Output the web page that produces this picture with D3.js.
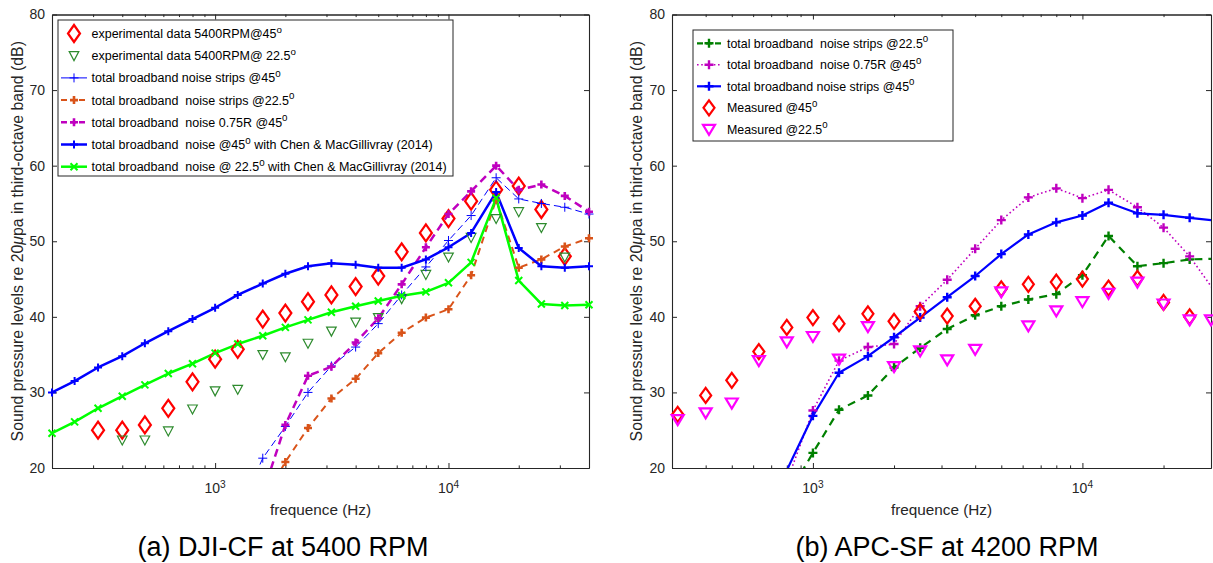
<!DOCTYPE html>
<html><head><meta charset="utf-8">
<script src="https://cdn.jsdelivr.net/npm/d3@7/dist/d3.min.js"></script>
<style>
body{margin:0;background:#fff;}
svg{display:block;font-family:Arial,"Liberation Sans",sans-serif;}
text{white-space:pre;}
</style></head><body>
<svg id="chart" width="1213" height="563"></svg>
<script>
// ---------------- DATA ----------------
const yTicks = [20, 30, 40, 50, 60, 70, 80];
const xMajorTicks = [1000, 10000];
const xTickExponents = ["3", "4"];

// Left chart (a) DJI-CF at 5400 RPM
const leftFreq = [160,200,250,315,400,500,630,800,1000,1250,1600,2000,2500,3150,4000,5000,6300,8000,10000,12500,16000,20000,25000,31500,40000];
const leftExp45 = [null,null,null,25.0,25.0,25.7,27.9,31.4,34.4,35.7,39.7,40.5,42.0,42.9,44.0,45.4,48.6,51.1,53.0,55.3,56.8,57.3,54.2,48.0,null];
const leftExp22 = [null,null,null,null,23.7,23.7,24.9,27.8,30.2,30.4,35.0,34.7,36.5,38.1,39.3,39.9,42.4,45.6,47.9,50.5,53.0,53.9,51.8,47.9,null];
const leftStrips45 = [null,null,null,null,null,null,null,null,null,13.8,21.3,25.5,30.0,33.5,36.0,39.1,42.9,46.6,50.1,53.4,58.4,55.6,55.0,54.5,53.6];
const leftStrips22 = [null,null,null,null,null,null,null,null,null,null,15.5,20.8,25.3,29.2,31.8,35.2,37.9,39.9,41.0,45.5,55.5,46.5,47.6,49.3,50.4];
const left075R = [null,null,null,null,null,null,null,null,null,null,16.6,25.7,32.2,33.4,36.6,39.8,44.3,49.2,53.6,56.6,60.0,56.8,57.5,56.0,53.9];
const leftChen45 = [28.5,30.0,31.5,33.3,34.8,36.5,38.1,39.7,41.2,42.9,44.4,45.7,46.7,47.1,46.9,46.5,46.5,47.6,49.2,51.1,56.5,49.1,46.7,46.5,46.7];
const leftChen22 = [23.1,24.6,26.1,27.9,29.5,31.0,32.5,33.8,35.2,36.4,37.5,38.6,39.6,40.6,41.4,42.1,42.8,43.3,44.5,47.2,55.7,44.8,41.7,41.5,41.6];
const leftLabels = [
  "experimental data 5400RPM@45^o",
  "experimental data 5400RPM@ 22.5^o",
  "total broadband noise strips @45^0",
  "total broadband  noise strips @22.5^0",
  "total broadband  noise 0.75R @45^0",
  "total broadband  noise @45^0 with Chen & MacGillivray (2014)",
  "total broadband  noise @ 22.5^0 with Chen & MacGillivray (2014)"
];

// Right chart (b) APC-SF at 4200 RPM
const rightFreq = [800,1000,1250,1600,2000,2500,3150,4000,5000,6300,8000,10000,12500,16000,20000,25000,31500];
const rightStrips22 = [16.1,22.0,27.7,29.6,33.3,35.9,38.4,40.2,41.4,42.3,43.0,45.5,50.7,46.7,47.1,47.6,47.7];
const right075R = [18.2,27.6,34.2,36.0,36.4,41.4,44.9,49.0,52.8,55.8,57.0,55.7,56.8,54.5,51.8,48.0,43.0];
const rightStrips45 = [19.7,26.9,32.6,34.8,37.3,39.9,42.6,45.4,48.3,50.9,52.5,53.4,55.1,53.7,53.5,53.1,52.7];
const rightMeasFreq = [315,400,500,630,800,1000,1250,1600,2000,2500,3150,4000,5000,6300,8000,10000,12500,16000,20000,25000,30000];
const rightMeas45 = [27.1,29.6,31.6,35.4,38.6,39.9,39.1,40.4,39.4,40.7,40.1,41.4,43.7,44.3,44.6,45.0,43.8,45.1,41.9,40.0,null];
const rightMeas22 = [26.4,27.3,28.6,34.2,36.7,37.4,34.4,38.7,33.4,35.5,34.3,35.7,43.3,38.8,40.8,42.0,43.1,44.6,41.7,39.6,39.6];
const rightLabels = [
  "total broadband  noise strips @22.5^0",
  "total broadband  noise 0.75R @45^0",
  "total broadband noise strips @45^0",
  "Measured @45^0",
  "Measured @22.5^0"
];

const xLabel = "frequence (Hz)";
const captions = ["(a) DJI-CF at 5400 RPM", "(b) APC-SF at 4200 RPM"];

// ---------------- DRAWING ----------------
const AX = "#262626";
const svg = d3.select("#chart");

function richText(sel, str, fs) {
  const parts = str.split(/(\^.)/);
  let raised = false;
  const up = fs * 0.42;
  parts.forEach(p => {
    if (!p) return;
    if (p[0] === "^") {
      sel.append("tspan").attr("dy", -up).attr("font-size", fs * 0.78).text(p[1]);
      raised = true;
    } else {
      const t = sel.append("tspan");
      if (raised) { t.attr("dy", up); raised = false; }
      t.text(p);
    }
  });
}

function marker(g, type, cx, cy, s) {
  const c = s.color, sw = s.mw;
  if (type === "diamond") {
    g.append("path").attr("d", `M${cx},${cy - s.mh}L${cx + s.mwid},${cy}L${cx},${cy + s.mh}L${cx - s.mwid},${cy}Z`)
      .attr("fill", "none").attr("stroke", c).attr("stroke-width", sw).attr("stroke-linejoin", "miter");
  } else if (type === "tri") {
    g.append("path").attr("d", `M${cx - s.mwid},${cy - s.mh * 0.45}L${cx + s.mwid},${cy - s.mh * 0.45}L${cx},${cy + s.mh * 0.55}Z`)
      .attr("fill", "none").attr("stroke", c).attr("stroke-width", sw);
  } else if (type === "plus") {
    const r = s.ms;
    g.append("path").attr("d", `M${cx - r},${cy}H${cx + r}M${cx},${cy - r}V${cy + r}`)
      .attr("stroke", c).attr("stroke-width", sw).attr("fill", "none");
  } else if (type === "x") {
    const r = s.ms;
    g.append("path").attr("d", `M${cx - r},${cy - r}L${cx + r},${cy + r}M${cx - r},${cy + r}L${cx + r},${cy - r}`)
      .attr("stroke", c).attr("stroke-width", sw).attr("fill", "none");
  }
}

function drawChart(cfg) {
  const { left, top, width, height, domain } = cfg;
  const g = svg.append("g").attr("transform", `translate(${left},${top})`);
  const x = d3.scaleLog().domain(domain).range([0, width]);
  const y = d3.scaleLinear().domain([20, 80]).range([height, 0]);
  const clipId = "clip" + cfg.id;
  g.append("clipPath").attr("id", clipId).append("rect").attr("width", width).attr("height", height);

  const minors = [];
  for (let dec = 100; dec <= 100000; dec *= 10)
    for (let m = 2; m <= 9; m++) { const v = dec * m; if (v > domain[0] && v < domain[1]) minors.push(v); }

  const axG = g.append("g");
  axG.append("g").attr("transform", `translate(0,${height})`)
    .call(d3.axisBottom(x).tickValues(xMajorTicks).tickSize(-5).tickSizeOuter(0).tickFormat(""));
  axG.append("g").attr("transform", `translate(0,${height})`)
    .call(d3.axisBottom(x).tickValues(minors).tickSize(-2.6).tickSizeOuter(0).tickFormat(""));
  axG.append("g")
    .call(d3.axisTop(x).tickValues(xMajorTicks).tickSize(-5).tickSizeOuter(0).tickFormat(""));
  axG.append("g")
    .call(d3.axisTop(x).tickValues(minors).tickSize(-2.6).tickSizeOuter(0).tickFormat(""));
  axG.append("g")
    .call(d3.axisLeft(y).tickValues(yTicks).tickSize(-5).tickSizeOuter(0).tickPadding(7).tickFormat(d3.format("d")));
  axG.append("g").attr("transform", `translate(${width},0)`)
    .call(d3.axisRight(y).tickValues(yTicks).tickSize(-5).tickSizeOuter(0).tickFormat(""));
  axG.selectAll("path.domain").attr("stroke", AX).attr("stroke-width", 1.1);
  axG.selectAll(".tick line").attr("stroke", AX).attr("stroke-width", 1);
  axG.selectAll(".tick text").attr("fill", AX).attr("font-size", 14).attr("font-family", "Arial, 'Liberation Sans', sans-serif");

  xMajorTicks.forEach((v, i) => {
    const t = g.append("text").attr("x", x(v)).attr("y", height + 25).attr("text-anchor", "middle")
      .attr("fill", AX).attr("font-size", 14);
    richText(t, "10^" + xTickExponents[i], 13);
    t.attr("font-size", 14);
  });

  g.append("text").attr("x", width / 2).attr("y", height + 46.5).attr("text-anchor", "middle")
    .attr("fill", AX).attr("font-size", 15.3).text(xLabel);
  const yl = g.append("text").attr("transform", `translate(${cfg.ylabX},${height / 2}) rotate(-90)`)
    .attr("text-anchor", "middle").attr("fill", AX).attr("font-size", 15.8);
  yl.append("tspan").text("Sound pressure levels re 20");
  yl.append("tspan").attr("font-style", "italic").text("\u03BC");
  yl.append("tspan").text("pa in third-octave band (dB)");

  const plotG = g.append("g").attr("clip-path", `url(#${clipId})`);
  const markG = g.append("g");
  cfg.series.forEach(s => {
    const pts = s.freq.map((f, i) => ({ f, v: s.values[i] })).filter(d => d.v != null);
    if (s.line) {
      const line = d3.line().x(d => x(d.f)).y(d => y(d.v));
      plotG.append("path").datum(pts).attr("d", line).attr("fill", "none")
        .attr("stroke", s.color).attr("stroke-width", s.lw)
        .attr("stroke-dasharray", s.dash || null).attr("stroke-linejoin", "round");
    }
    pts.filter(d => d.f >= domain[0] && d.f <= domain[1] && d.v >= 20 && d.v <= 80)
      .forEach(d => marker(markG, s.marker, x(d.f), y(d.v), s));
  });

  const L = cfg.legend;
  const lg = svg.append("g");
  lg.append("rect").attr("x", L.x).attr("y", L.y).attr("width", L.w).attr("height", L.h)
    .attr("fill", "#fff").attr("stroke", AX).attr("stroke-width", 1);
  L.order.forEach((si, k) => {
    const s = cfg.series[si];
    const cy = L.firstY + k * L.dy;
    if (s.line) {
      lg.append("line").attr("x1", L.sx1).attr("x2", L.sx2).attr("y1", cy).attr("y2", cy)
        .attr("stroke", s.color).attr("stroke-width", s.lw)
        .attr("stroke-dasharray", s.legDash || null);
    }
    marker(lg, s.marker, (L.sx1 + L.sx2) / 2, cy, s);
    const t = lg.append("text").attr("x", L.tx).attr("y", cy + 4.4).attr("fill", "#000").attr("font-size", L.fs);
    richText(t, cfg.labels[k], L.fs);
  });

  svg.append("text").attr("x", cfg.capX).attr("y", 556).attr("text-anchor", "middle")
    .attr("fill", "#000").attr("font-size", 27).text(cfg.caption);
}

drawChart({
  id: "L", left: 52, top: 14.5, width: 537, height: 453.5, domain: [200, 40000], ylabX: -29,
  caption: captions[0], capX: 283, labels: leftLabels,
  series: [
    { freq: leftFreq, values: leftExp45, line: false, marker: "diamond", color: "#FF0000", mw: 2.2, mwid: 6, mh: 8.5 },
    { freq: leftFreq, values: leftExp22, line: false, marker: "tri", color: "#2E8B2E", mw: 1.2, mwid: 4.8, mh: 9 },
    { freq: leftFreq, values: leftStrips45, line: true, marker: "plus", color: "#0000FF", lw: 1, dash: "7,4", mw: 1, ms: 4.5 },
    { freq: leftFreq, values: leftStrips22, line: true, marker: "plus", color: "#D95319", lw: 2, dash: "7,5", legDash: "6,3", mw: 2.6, ms: 4 },
    { freq: leftFreq, values: left075R, line: true, marker: "plus", color: "#BF00BF", lw: 2.5, dash: "8,5", legDash: "6,3", mw: 2.6, ms: 4 },
    { freq: leftFreq, values: leftChen45, line: true, marker: "plus", color: "#0000FF", lw: 2.5, mw: 2, ms: 4 },
    { freq: leftFreq, values: leftChen22, line: true, marker: "x", color: "#00FF00", lw: 2.5, mw: 2, ms: 3.5 }
  ],
  legend: { x: 58, y: 20, w: 395, h: 156, firstY: 33.5, dy: 22.2, sx1: 61, sx2: 87, tx: 91.5, fs: 12.5, order: [0,1,2,3,4,5,6] }
});

drawChart({
  id: "R", left: 672, top: 14.5, width: 539, height: 453.5, domain: [300, 30000], ylabX: -30,
  caption: captions[1], capX: 947, labels: rightLabels,
  series: [
    { freq: rightFreq, values: rightStrips22, line: true, marker: "plus", color: "#008000", lw: 2.2, dash: "8,6", legDash: "6,3", mw: 2.4, ms: 4.5 },
    { freq: rightFreq, values: right075R, line: true, marker: "plus", color: "#BF00BF", lw: 1.6, dash: "1.6,2.6", legDash: "1.6,2.6", mw: 2.4, ms: 4.5 },
    { freq: rightFreq, values: rightStrips45, line: true, marker: "plus", color: "#0000FF", lw: 2.2, mw: 2.4, ms: 4.5 },
    { freq: rightMeasFreq, values: rightMeas45, line: false, marker: "diamond", color: "#FF0000", mw: 2.2, mwid: 5.5, mh: 7.5 },
    { freq: rightMeasFreq, values: rightMeas22, line: false, marker: "tri", color: "#FF00FF", mw: 2.2, mwid: 6, mh: 10 }
  ],
  legend: { x: 693, y: 30, w: 260, h: 111, firstY: 43.3, dy: 21.5, sx1: 697, sx2: 721, tx: 727, fs: 12.4, order: [0,1,2,3,4] }
});
</script>
</body></html>
